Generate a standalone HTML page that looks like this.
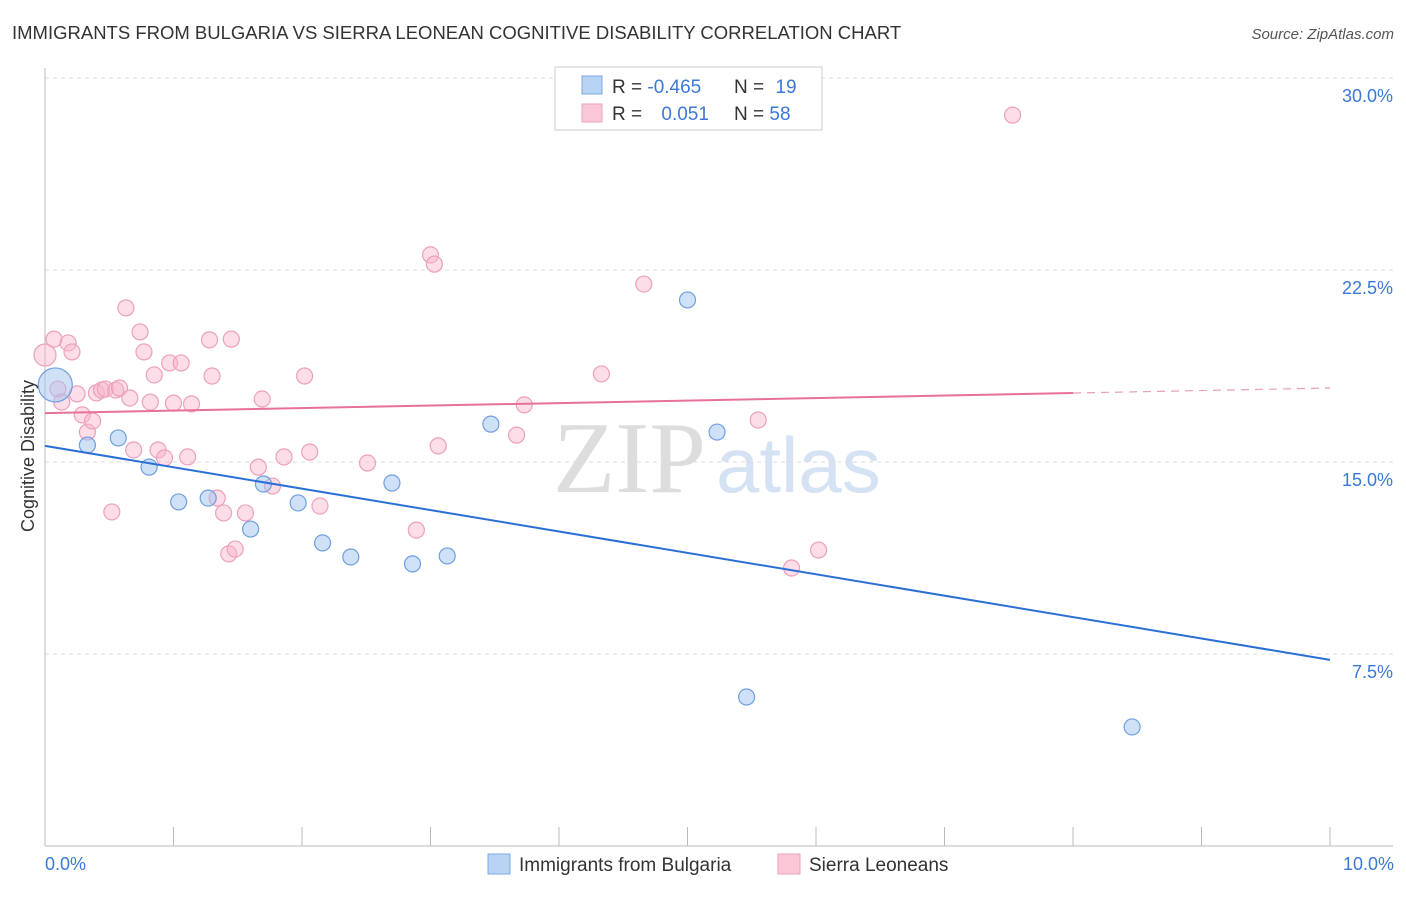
<!DOCTYPE html>
<html><head><meta charset="utf-8">
<style>
body{margin:0;background:#fff;font-family:"Liberation Sans",sans-serif;}
svg text{font-family:"Liberation Sans",sans-serif;}
</style></head>
<body>
<svg width="1406" height="892" viewBox="0 0 1406 892" xmlns="http://www.w3.org/2000/svg">
<text x="12" y="39" font-size="18.5" fill="#333">IMMIGRANTS FROM BULGARIA VS SIERRA LEONEAN COGNITIVE DISABILITY CORRELATION CHART</text>
<text x="1394" y="39" font-size="15" fill="#555" font-style="italic" text-anchor="end">Source: ZipAtlas.com</text>
<text x="553" y="492" font-size="102" fill="#ddd" style="font-family:'Liberation Serif',serif">ZIP</text>
<text x="716" y="492" font-size="78" fill="#d4e2f4">atlas</text>
<g id="grid"></g>
<g id="axes"></g>
<g id="marks"></g>
<text transform="translate(34,456) rotate(-90)" font-size="18" fill="#333" text-anchor="middle">Cognitive Disability</text>
<text x="45" y="870" font-size="18" fill="#3b78d8">0.0%</text>
<text x="1394" y="870" font-size="18" fill="#3b78d8" text-anchor="end">10.0%</text>
<g>
<rect x="555" y="67" width="267" height="63" fill="#fff" stroke="#ccc"/>
<rect x="582" y="76" width="20" height="18" fill="#b9d3f5" stroke="#7aa8e6"/>
<rect x="582" y="104" width="20" height="18" fill="#fbc8d8" stroke="#eda0bc"/>
<text x="612" y="93" font-size="19" fill="#333">R = <tspan fill="#3b78d8">-0.465</tspan></text>
<text x="734" y="93" font-size="19" fill="#333">N = <tspan fill="#3b78d8" dx="6">19</tspan></text>
<text x="612" y="120" font-size="19" fill="#333">R = <tspan fill="#3b78d8" dx="14">0.051</tspan></text>
<text x="734" y="120" font-size="19" fill="#333">N = <tspan fill="#3b78d8">58</tspan></text>
</g>
<g>
<rect x="488" y="854" width="22" height="20" fill="#b9d3f5" stroke="#7aa8e6"/>
<text x="519" y="871" font-size="19" fill="#333">Immigrants from Bulgaria</text>
<rect x="778" y="854" width="22" height="20" fill="#fbc8d8" stroke="#eda0bc"/>
<text x="809" y="871" font-size="19" fill="#333">Sierra Leoneans</text>
</g>
</svg>
<script>
const yTicks=[7.5,15,22.5,30];
const yTickLabels=["7.5%","15.0%","22.5%","30.0%"];
const xTicks=[0,1,2,3,4,5,6,7,8,9,10];
const blueX=[0.08,0.33,0.57,0.81,1.04,1.27,1.60,1.70,1.97,2.16,2.38,2.70,2.86,3.13,3.47,5.00,5.23,5.46,8.46];
const blueY=[18.01,15.66,15.94,14.80,13.44,13.59,12.38,14.14,13.40,11.84,11.29,14.18,11.02,11.33,16.48,21.33,16.17,5.82,4.65];
const pinkX=[0.00,0.07,0.10,0.13,0.18,0.21,0.25,0.29,0.33,0.37,0.40,0.44,0.47,0.52,0.55,0.58,0.63,0.66,0.69,0.74,0.77,0.82,0.85,0.88,0.93,0.97,1.00,1.06,1.11,1.14,1.28,1.30,1.34,1.39,1.43,1.45,1.48,1.56,1.66,1.69,1.77,1.86,2.02,2.06,2.14,2.51,2.89,3.00,3.03,3.06,3.67,3.73,4.33,4.66,5.55,5.81,6.02,7.53];
const pinkY=[19.18,19.80,17.85,17.34,19.65,19.30,17.66,16.84,16.17,16.60,17.70,17.81,17.85,13.05,17.81,17.89,21.02,17.50,15.47,20.08,19.30,17.34,18.40,15.47,15.16,18.87,17.30,18.87,15.20,17.27,19.77,18.36,13.59,13.01,11.41,19.80,11.60,13.01,14.80,17.46,14.06,15.20,18.36,15.39,13.28,14.96,12.34,23.09,22.73,15.63,16.05,17.23,18.44,21.95,16.64,10.86,11.56,28.55];
const blueTrend=[15.63,7.27];
const pinkTrend=[16.91,17.89];
const pinkSolidEnd=8.0;
const NS="http://www.w3.org/2000/svg";
const X=v=>45+v*128.5, Y=v=>846-v*25.6;
function mk(tag,attrs,parent){const e=document.createElementNS(NS,tag);for(const k in attrs)e.setAttribute(k,attrs[k]);parent.appendChild(e);return e;}
const grid=document.getElementById('grid'),axes=document.getElementById('axes'),marks=document.getElementById('marks');
yTicks.forEach((t,i)=>{
 const l=mk('line',{x1:45,x2:1393,y1:Y(t),y2:Y(t),stroke:'#ddd','stroke-dasharray':'4,4'},grid);
 
 
 const tx=mk('text',{x:1393,y:Y(t)+24,'font-size':18,fill:'#3b78d8','text-anchor':'end'},axes);
 tx.textContent=yTickLabels[i];
 
 
});
let a=mk('line',{x1:45,x2:45,y1:68,y2:846,stroke:'#bbb'},axes);


a=mk('line',{x1:45,x2:1393,y1:846,y2:846,stroke:'#bbb'},axes);


xTicks.forEach(t=>{
 const l=mk('line',{x1:X(t),x2:X(t),y1:827,y2:846,stroke:'#bbb'},axes);
 
 
});
pinkX.forEach((x,i)=>{
 const c=mk('circle',{cx:X(x),cy:Y(pinkY[i]),r:i==0?11:8,fill:'rgba(248,180,205,0.45)',stroke:'#eda0bc','stroke-width':1.2},marks);
 
 
});
blueX.forEach((x,i)=>{
 const c=mk('circle',{cx:X(x),cy:Y(blueY[i]),r:i==0?17:8,fill:'rgba(160,196,240,0.5)',stroke:'#6f9fe0','stroke-width':1.2},marks);
 
 
});
let t=mk('line',{x1:X(0),y1:Y(blueTrend[0]),x2:X(10),y2:Y(blueTrend[1]),stroke:'#2a6fd6','stroke-width':2},marks);


const pAt=v=>pinkTrend[0]+(pinkTrend[1]-pinkTrend[0])*v/10;
t=mk('line',{x1:X(0),y1:Y(pAt(0)),x2:X(pinkSolidEnd),y2:Y(pAt(pinkSolidEnd)),stroke:'#e8709a','stroke-width':2},marks);


t=mk('line',{x1:X(pinkSolidEnd),y1:Y(pAt(pinkSolidEnd)),x2:X(10),y2:Y(pAt(10)),stroke:'#e8a0b8','stroke-width':1.2,'stroke-dasharray':'8,6'},marks);


</script>
</body></html>
